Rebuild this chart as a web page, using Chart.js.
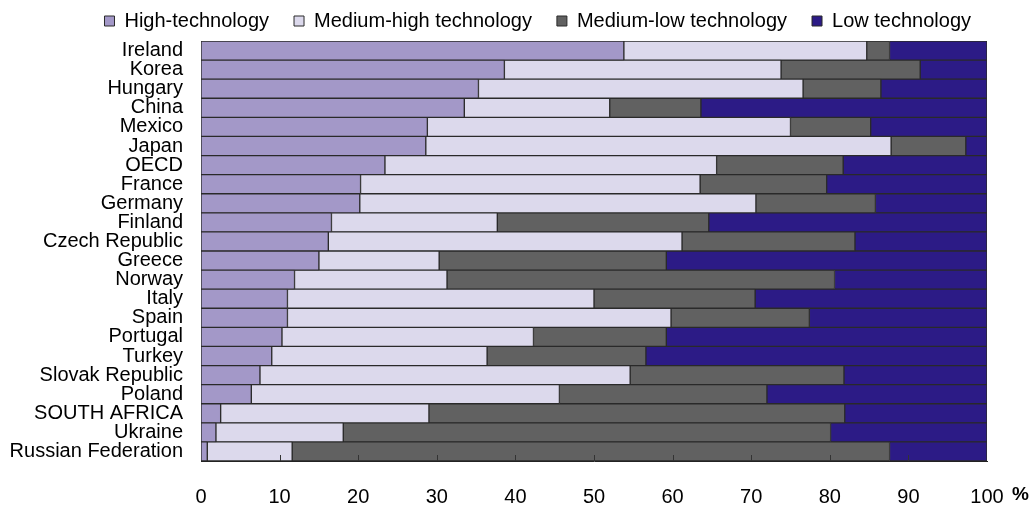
<!DOCTYPE html>
<html>
<head>
<meta charset="utf-8">
<script src="https://cdn.jsdelivr.net/npm/chart.js@4.4.1/dist/chart.umd.min.js"></script>
<style>
  html, body { margin: 0; padding: 0; background: #fff; }
  #wrap { width: 1035px; height: 505px; position: relative; }
</style>
</head>
<body>
<div id="wrap"><canvas id="chart"></canvas></div>
<script>
// shares of manufacturing exports by technology level, %
const countries = ['Ireland', 'Korea', 'Hungary', 'China', 'Mexico', 'Japan', 'OECD', 'France',
    'Germany', 'Finland', 'Czech Republic', 'Greece', 'Norway', 'Italy', 'Spain', 'Portugal',
    'Turkey', 'Slovak Republic', 'Poland', 'SOUTH AFRICA', 'Ukraine', 'Russian Federation'];

const highTech    = [53.8, 38.6, 35.3, 33.5, 28.8, 28.6, 23.4, 20.3, 20.2, 16.6, 16.2, 15.0, 11.9, 11.0, 11.0, 10.3, 9.0, 7.5, 6.4, 2.5, 1.9, 0.8];
const medHighTech = [30.9, 35.2, 41.3, 18.5, 46.2, 59.2, 42.2, 43.2, 50.4, 21.1, 45.0, 15.3, 19.4, 39.0, 48.8, 32.0, 27.4, 47.1, 39.2, 26.5, 16.2, 10.8];
const medLowTech  = [2.9, 17.7, 9.9, 11.6, 10.2, 9.5, 16.1, 16.1, 15.2, 26.9, 22.0, 28.9, 49.3, 20.5, 17.6, 16.9, 20.2, 27.2, 26.4, 52.9, 62.0, 76.0];
const lowTech     = [12.4, 8.5, 13.5, 36.4, 14.8, 2.7, 18.3, 20.4, 14.2, 35.4, 16.8, 40.8, 19.4, 29.5, 22.6, 40.8, 43.4, 18.2, 28.0, 18.1, 19.9, 12.4];

const seriesNames = ['High-technology', 'Medium-high technology', 'Medium-low technology', 'Low technology'];
const seriesColors = ['#a398c8', '#dcd9ec', '#616161', '#2c1b86'];
const xTicks = [0, 10, 20, 30, 40, 50, 60, 70, 80, 90, 100];

const FONT = '"Liberation Sans", Arial, sans-serif';

// small tick marks pointing up into the plot, plus the bold % unit
const extras = {
    id: 'extras',
    afterLayout(chart) {
        // nudge legend a little to the right, like the original
        chart.legend.left += 9;
        chart.legend.right += 9;
    },
    afterDatasetsDraw(chart) {
        const ctx = chart.ctx;
        const xs = chart.scales.x;
        const bottom = chart.chartArea.bottom;
        ctx.save();
        ctx.strokeStyle = '#333';
        ctx.lineWidth = 1;
        xTicks.slice(1, -1).forEach(v => {
            const x = Math.round(xs.getPixelForValue(v)) + 0.5;
            ctx.beginPath();
            ctx.moveTo(x, bottom);
            ctx.lineTo(x, bottom - 6);
            ctx.stroke();
        });
        ctx.restore();
    },
    afterDraw(chart) {
        const ctx = chart.ctx;
        const xs = chart.scales.x;
        ctx.save();
        ctx.font = 'bold 19px ' + FONT;
        ctx.fillStyle = '#000';
        ctx.textBaseline = 'middle';
        ctx.fillText('%', xs.getPixelForValue(100) + 25, 495);
        ctx.restore();
    }
};

const datasets = [highTech, medHighTech, medLowTech, lowTech].map((vals, i) => ({
    label: seriesNames[i],
    data: vals,
    backgroundColor: seriesColors[i],
    borderColor: '#2a2a2a',
    borderWidth: 1,
    borderSkipped: false,
    barPercentage: 1,
    categoryPercentage: 1
}));

new Chart(document.getElementById('chart'), {
    type: 'bar',
    data: { labels: countries, datasets: datasets },
    plugins: [extras],
    options: {
        indexAxis: 'y',
        responsive: true,
        maintainAspectRatio: false,
        animation: false,
        layout: { padding: { left: 0, right: 48, top: -14, bottom: 0 } },
        plugins: {
            legend: {
                position: 'top',
                align: 'end',
                maxHeight: 59,
                labels: {
                    font: { family: FONT, size: 20 },
                    color: '#000',
                    boxWidth: 10,
                    boxHeight: 10,
                    padding: 25
                }
            },
            tooltip: { enabled: false }
        },
        scales: {
            x: {
                stacked: true,
                min: 0,
                max: 100,
                afterBuildTicks: axis => { axis.ticks = xTicks.map(v => ({ value: v })); },
                afterFit: axis => { axis.height = 44; },
                ticks: {
                    font: { family: FONT, size: 20 },
                    color: '#000',
                    padding: 24,
                    maxRotation: 0
                },
                grid: { display: false, drawTicks: false },
                border: { display: true, color: '#222', width: 1 }
            },
            y: {
                stacked: true,
                afterFit: axis => { axis.width = 201; },
                ticks: {
                    font: { family: FONT, size: 20 },
                    color: '#000',
                    padding: 18,
                    autoSkip: false
                },
                grid: { display: false, drawTicks: false },
                border: { display: true, color: '#222', width: 1 }
            }
        }
    }
});
</script>
</body>
</html>
